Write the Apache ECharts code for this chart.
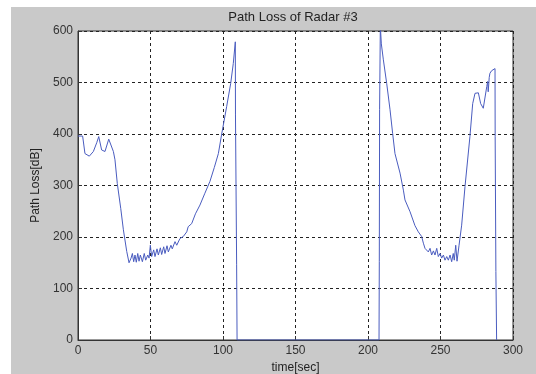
<!DOCTYPE html>
<html>
<head>
<meta charset="utf-8">
<script src="https://cdn.jsdelivr.net/npm/echarts@6/dist/echarts.min.js"></script>
<style>
  html, body { margin: 0; padding: 0; background: #fff; }
  #main { position: absolute; left: 11px; top: 7px; width: 525px; height: 367px; }
</style>
</head>
<body>
<div id="main"></div>
<script>
// time [sec] and path loss [dB]
var times = [
  0, 3.2, 4.8, 7.8, 10.6, 12.9, 14.3, 16.3, 18.6, 21.2, 24.4, 25.5, 27.1, 29.5, 31.3, 33.6,
  35.2, 36.6, 37.5, 38.4, 39.3, 40.2, 41.2, 42.1, 43, 44.4, 45.7, 46.7, 48.1, 49, 49.9, 50.8,
  52.2, 53.1, 54.5, 55.4, 56.8, 57.7, 59.1, 60, 61.4, 62.3, 64.1, 65, 66.9, 68.1, 70.3, 72.6,
  75, 76, 78.4, 81, 84.1, 87.5, 91, 94, 96.8, 99.1, 102.5, 105.3, 107.1, 108.5, 108.6, 109.2,
  109.4, 109.7,
  207.6, 207.8, 208.0, 208.5, 209.2, 210.6, 212.9, 215.2, 217, 218.6, 222.1, 224.4, 225.5, 229,
  232.4, 234.7, 237, 238.2, 239.3, 240.5, 241.6, 242.8, 243.9, 245.1, 246.2, 247.4, 248.5, 249.7,
  250.8, 252, 253.1, 254.3, 255.4, 256.6, 257.7, 258.8, 259.5, 260.5, 261.4, 262.8, 264.6, 266.9,
  270.3, 272.2, 273.8, 276.1, 277.7, 279.5, 280.3, 281.9, 282.5, 282.9, 283.6, 284.1, 285.3, 287.6,
  287.7, 288.2, 288.7
];
var loss = [
  396, 396, 362, 357, 366, 383, 395, 369, 366, 390, 366, 350, 304, 255, 214, 172,
  150, 159, 168, 152, 165, 151, 168, 153, 165, 152, 168, 155, 165, 159, 184, 162,
  175, 162, 177, 165, 179, 166, 181, 168, 183, 171, 184, 177, 191, 184, 197, 201,
  210, 220, 226, 245, 262, 285, 308, 335, 362, 400, 453, 498, 537, 579, 437, 437,
  146, 0,
  0, 152, 447, 610, 575, 544, 498, 447, 401, 362, 324, 291, 272, 249,
  222, 210, 201, 188, 178, 181, 171, 178, 165, 173, 165, 178, 162, 168,
  159, 165, 155, 162, 155, 165, 152, 168, 155, 184, 153, 184, 223, 298,
  395, 459, 479, 480, 459, 450, 453, 492, 502, 482, 510, 518, 523, 527,
  395, 133, 0
];
var xTicks = [0, 50, 100, 150, 200, 250, 300];
var yTicks = [0, 100, 200, 300, 400, 500, 600];

var points = times.map(function (t, i) { return [t, loss[i]]; });

var chart = echarts.init(document.getElementById('main'));
var font = 'Liberation Sans, Arial, sans-serif';
var gridLine = { show: true, lineStyle: { color: '#222', type: [3, 3], width: 1 } };

var option = {
  backgroundColor: '#c9c9c9',
  animation: false,
  textStyle: { fontFamily: font },
  graphic: [{
    type: 'text',
    x: 282,
    y: 4,
    style: { text: 'Path Loss of Radar #3', fill: '#222', font: '13px ' + font, textAlign: 'center' }
  }],
  grid: {
    left: 67, top: 24, right: 23, bottom: 34,
    outerBoundsMode: 'none',
    show: true, backgroundColor: '#fff', borderColor: '#333', borderWidth: 1
  },
  xAxis: {
    type: 'value',
    min: xTicks[0], max: xTicks[xTicks.length - 1], interval: 50,
    name: 'time[sec]', nameLocation: 'middle', nameGap: 19,
    nameTextStyle: { color: '#222', fontSize: 12 },
    axisLine: { show: true, lineStyle: { color: '#333' } },
    axisTick: { show: true, inside: true, length: 4, lineStyle: { color: '#333' } },
    axisLabel: { color: '#333', fontSize: 12, margin: 5 },
    splitLine: gridLine
  },
  yAxis: {
    type: 'value',
    min: yTicks[0], max: yTicks[yTicks.length - 1], interval: 100,
    name: 'Path Loss[dB]', nameLocation: 'middle', nameGap: 34,
    nameTextStyle: { color: '#222', fontSize: 12 },
    axisLine: { show: true, lineStyle: { color: '#333' } },
    axisTick: { show: true, inside: true, length: 4, lineStyle: { color: '#333' } },
    axisLabel: { color: '#333', fontSize: 12, margin: 5 },
    splitLine: gridLine
  },
  series: [{
    type: 'line',
    data: points,
    showSymbol: false,
    clip: true,
    lineStyle: { color: '#4a5cbf', width: 1 },
    itemStyle: { color: '#4a5cbf' }
  }]
};
chart.setOption(option);
</script>
</body>
</html>
